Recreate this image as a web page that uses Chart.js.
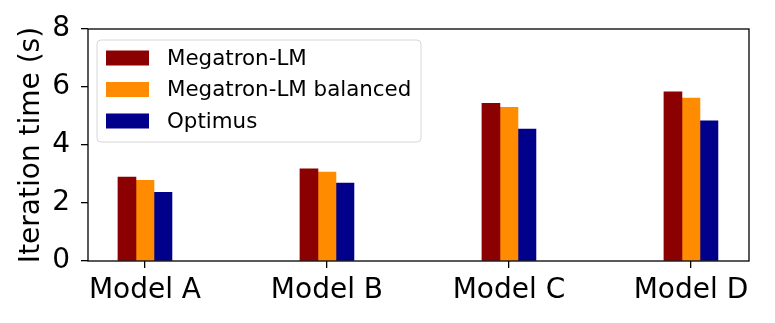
<!DOCTYPE html>
<html>
<head>
<meta charset="utf-8">
<script src="https://cdn.jsdelivr.net/npm/chart.js@4.4.0/dist/chart.umd.min.js"></script>
<style>
	body { margin: 0; background: #fff; }
	#wrap { width: 775px; height: 323px; }
</style>
</head>
<body>
<div id="wrap"><canvas id="mycanvas" width="775" height="323"></canvas></div>
<script>
var categories = ["Model A", "Model B", "Model C", "Model D"];
var megatron = [2.89, 3.18, 5.44, 5.83];
var megatronBalanced = [2.78, 3.07, 5.30, 5.62];
var optimus = [2.37, 2.69, 4.55, 4.83];
var yTicks = [0, 2, 4, 6, 8];
var seriesNames = ["Megatron-LM", "Megatron-LM balanced", "Optimus"];
var seriesColors = ["#8b0000", "#ff8c00", "#00008b"];

var FONT = "DejaVu Sans";

function toPoints(values) {
	return values.map(function(v, i) { return {x: i, y: v}; });
}

// black box round the plot, like matplotlib spines
var framePlugin = {
	id: "frame",
	afterDraw: function(chart) {
		var a = chart.chartArea;
		var ctx = chart.ctx;
		ctx.save();
		ctx.strokeStyle = "#000";
		ctx.lineWidth = 1.3;
		ctx.strokeRect(a.left, a.top, a.right - a.left, a.bottom - a.top);
		ctx.restore();
	}
};

// legend drawn inside the plot, top left
var legendPlugin = {
	id: "innerLegend",
	afterDatasetsDraw: function(chart) {
		var a = chart.chartArea;
		var ctx = chart.ctx;
		var x0 = a.left + 9, y0 = a.top + 11;
		ctx.save();
		ctx.beginPath();
		ctx.roundRect(x0, y0, 324, 102, 4);
		ctx.fillStyle = "rgba(255,255,255,0.8)";
		ctx.fill();
		ctx.strokeStyle = "#d6d6d6";
		ctx.lineWidth = 1;
		ctx.stroke();
		ctx.font = "21.4px '" + FONT + "'";
		ctx.textBaseline = "middle";
		chart.data.datasets.forEach(function(ds, i) {
			var cy = y0 + 18 + i * 31.5;
			ctx.fillStyle = ds.backgroundColor;
			ctx.fillRect(x0 + 9, cy - 7.5, 43, 15);
			ctx.fillStyle = "#000";
			ctx.fillText(ds.label, x0 + 70, cy + 1);
		});
		ctx.restore();
	}
};

var datasets = [megatron, megatronBalanced, optimus].map(function(vals, i) {
	return {
		label: seriesNames[i],
		data: toPoints(vals),
		backgroundColor: seriesColors[i],
		borderWidth: 0,
		barThickness: 18
	};
});

var ctx = document.getElementById("mycanvas");

var chart = new Chart(ctx, {
	type: "bar",
	data: { datasets: datasets },
	options: {
		responsive: false,
		animation: false,
		layout: { padding: { top: 29, right: 26, left: 0, bottom: 0 } },
		plugins: { legend: { display: false }, tooltip: { enabled: false } },
		scales: {
			x: {
				type: "linear",
				min: -0.313,
				max: 3.319,
				offset: false,
				afterBuildTicks: function(scale) {
					scale.ticks = categories.map(function(c, i) { return {value: i}; });
				},
				afterFit: function(scale) { scale.height = 62; },
				border: { display: false },
				grid: { offset: false, drawOnChartArea: false, drawTicks: true, tickLength: 7, color: "#000", lineWidth: 1.3 },
				ticks: {
					color: "#000",
					font: { family: FONT, size: 28 },
					padding: 6,
					autoSkip: false,
					maxRotation: 0,
					callback: function(v) { return categories[v]; }
				}
			},
			y: {
				min: 0,
				max: 8,
				afterBuildTicks: function(scale) {
					scale.ticks = yTicks.map(function(v) { return {value: v}; });
				},
				afterFit: function(scale) { scale.width = 88; },
				border: { display: false },
				grid: { drawOnChartArea: false, drawTicks: true, tickLength: 7, color: "#000", lineWidth: 1.3 },
				ticks: {
					color: "#000",
					font: { family: FONT, size: 28 },
					padding: 11
				},
				title: {
					display: true,
					text: "Iteration time (s)",
					color: "#000",
					font: { family: FONT, size: 28 },
					padding: { top: 15, bottom: 0 }
				}
			}
		}
	},
	plugins: [framePlugin, legendPlugin]
});
</script>
</body>
</html>
